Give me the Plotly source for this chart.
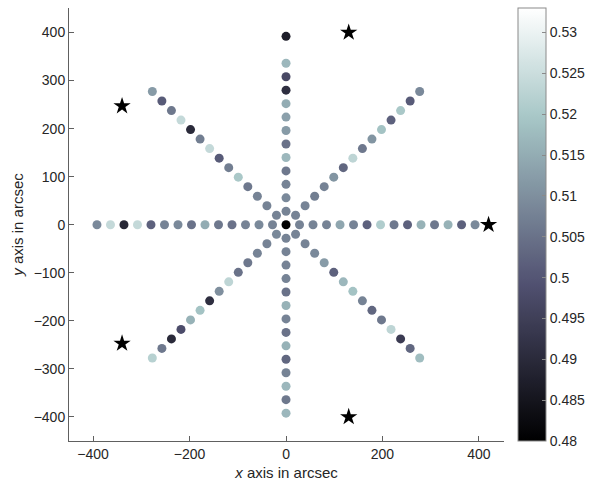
import numpy as np
import plotly.graph_objects as go

# Radial sampling: 14 points per ray, 28 arcsec apart
step = 28.0
n_per_ray = 14
ray_angles_deg = [0, 45, 90, 135, 180, 225, 270, 315]

# Measured value for each ray, ordered from the centre outwards (None = no sample)
vals_e = [0.508, 0.508, 0.508, 0.514, 0.508, 0.502, 0.521, 0.506, 0.502, 0.516, 0.506, 0.516, 0.502, 0.509]
vals_ne = [0.508, 0.508, 0.507, 0.508, 0.511, 0.503, 0.523, 0.506, 0.511, 0.519, 0.502, 0.520, 0.501, 0.509]
vals_n = [0.508, 0.509, 0.508, 0.506, 0.517, 0.505, 0.512, 0.513, 0.515, 0.491, 0.497, 0.517, None, 0.487]
vals_nw = [0.508, 0.508, 0.508, 0.506, 0.520, 0.507, 0.501, 0.524, 0.507, 0.490, 0.524, 0.506, 0.501, 0.512]
vals_w = [0.508, 0.509, 0.508, 0.505, 0.506, 0.515, 0.505, 0.509, 0.508, 0.502, 0.524, 0.489, 0.524, 0.509]
vals_sw = [0.509, 0.508, 0.508, 0.506, 0.505, 0.523, 0.510, 0.491, 0.519, 0.516, 0.498, 0.490, 0.506, 0.522]
vals_s = [0.508, 0.508, 0.508, 0.508, 0.505, 0.516, 0.508, 0.505, 0.516, 0.503, 0.508, 0.517, 0.506, 0.517]
vals_se = [0.508, 0.508, 0.509, 0.512, 0.502, 0.517, 0.519, 0.508, 0.503, 0.506, 0.523, 0.494, 0.503, 0.518]
val_centre = 0.48

# Reference positions marked with stars (arcsec)
star_x = [130, -340, 420, -340, 130]
star_y = [400, 247, 0, -247, -400]

# Colour limits and colourbar ticks
cmin, cmax = 0.48, 0.533
cbar_ticks = [0.48, 0.485, 0.49, 0.495, 0.5, 0.505, 0.51, 0.515, 0.52, 0.525, 0.53]

# MATLAB-style "bone" colour map, sampled in 64 steps
bone_fine = []
for t in np.linspace(0, 1, 65):
    r = np.interp(t, [0, 0.746032, 1], [0, 0.652778, 1])
    g = np.interp(t, [0, 0.365079, 0.746032, 1], [0, 0.319444, 0.777778, 1])
    b = np.interp(t, [0, 0.365079, 1], [0, 0.444444, 1])
    bone_fine.append([float(t), f"rgb({r*255:.0f},{g*255:.0f},{b*255:.0f})"])

rays = [vals_e, vals_ne, vals_n, vals_nw, vals_w, vals_sw, vals_s, vals_se]
xs, ys, cs = [0.0], [0.0], [val_centre]
for ang, vals in zip(ray_angles_deg, rays):
    a = np.deg2rad(ang)
    for k, v in enumerate(vals, start=1):
        if v is None:
            continue
        rad = k * step
        xs.append(round(rad * np.cos(a), 6))
        ys.append(round(rad * np.sin(a), 6))
        cs.append(v)

font = dict(family="Liberation Sans, Arial, sans-serif", size=14, color="#262626")

fig = go.Figure()
fig.add_trace(go.Scatter(
    x=xs, y=ys, mode="markers",
    marker=dict(
        size=9, color=cs, colorscale=bone_fine, cmin=cmin, cmax=cmax,
        line=dict(width=0),
        colorbar=dict(
            x=1.0318, xanchor="left", xpad=0,
            y=0, yanchor="bottom", len=1.0, lenmode="fraction", ypad=0,
            thickness=28, thicknessmode="pixels",
            outlinewidth=1, outlinecolor="#8a8a8a",
            tickmode="array", tickvals=cbar_ticks,
            ticktext=[f"{t:g}" for t in cbar_ticks],
            ticks="inside", ticklen=4, tickcolor="#8a8a8a",
            tickfont=font,
        ),
    ),
    showlegend=False, hoverinfo="skip",
))
fig.add_trace(go.Scatter(
    x=star_x, y=star_y, mode="markers",
    marker=dict(symbol="star", size=13, color="black", line=dict(width=0)),
    showlegend=False, hoverinfo="skip",
))

axis_common = dict(
    showgrid=False, zeroline=False, showline=True, linecolor="#606060", linewidth=1,
    ticks="inside", ticklen=5, tickcolor="#606060", tickfont=font,
    mirror=False,
)
fig.update_xaxes(
    range=[-450, 452], tickvals=[-400, -200, 0, 200, 400],
    title=dict(text="<i>x</i> axis in arcsec", font=dict(family=font["family"], size=15, color="#262626"), standoff=6),
    **axis_common,
)
fig.update_yaxes(
    range=[-450, 451], tickvals=[-400, -300, -200, -100, 0, 100, 200, 300, 400],
    title=dict(text="<i>y</i> axis in arcsec", font=dict(family=font["family"], size=15, color="#262626"), standoff=6),
    **axis_common,
)
fig.update_layout(
    width=598, height=491,
    margin=dict(l=69, r=90, t=8, b=50),
    paper_bgcolor="white", plot_bgcolor="white",
)

fig.write_html("out.html")
